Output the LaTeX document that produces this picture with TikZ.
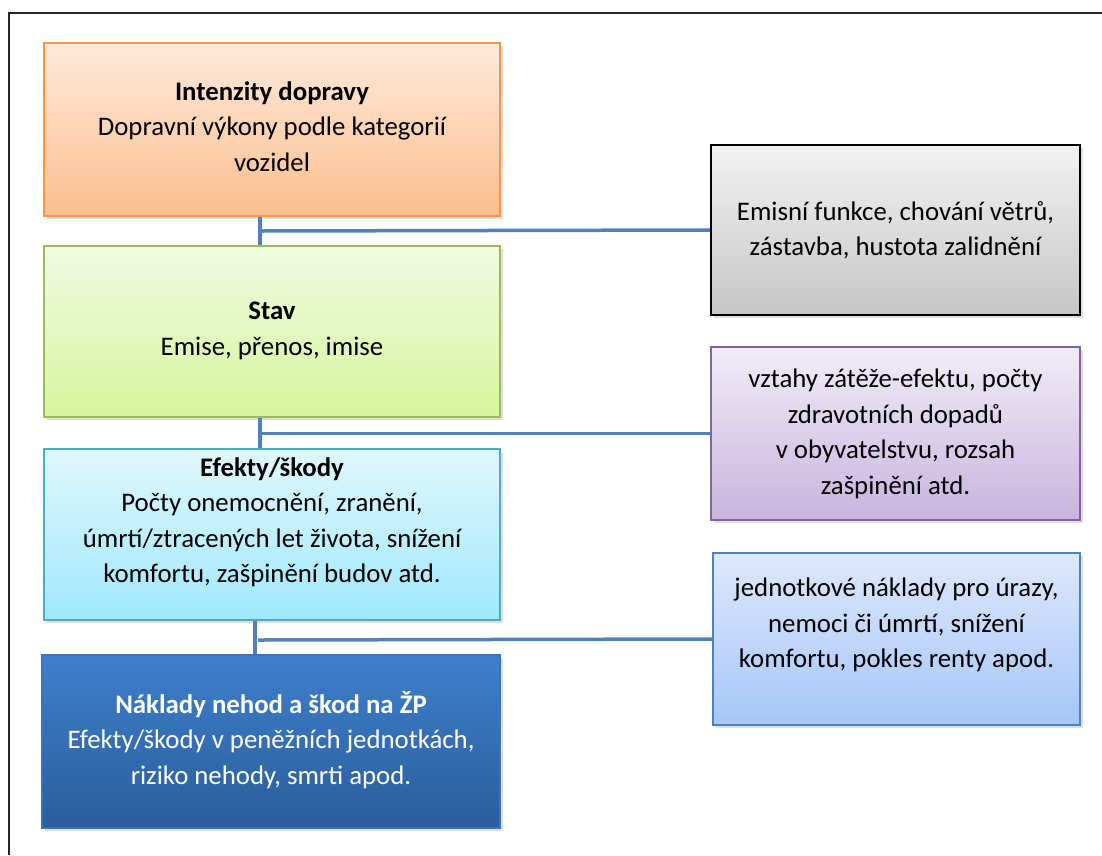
\documentclass[tikz,border=0pt]{standalone}
\usepackage{fontspec}
\setmainfont{Carlito}
\usetikzlibrary{shadows}
\definecolor{conn}{HTML}{4F81BD}
\definecolor{oD}{HTML}{F79646}\definecolor{oT}{HTML}{FEEADB}\definecolor{oB}{HTML}{FBBE8E}
\definecolor{gD}{HTML}{9BBB59}\definecolor{gT}{HTML}{F1FAE3}\definecolor{gB}{HTML}{D6F59C}
\definecolor{cD}{HTML}{4BACC6}\definecolor{cT}{HTML}{E0F7FD}\definecolor{cB}{HTML}{A0E8FC}
\definecolor{dD}{HTML}{3A74BE}\definecolor{dT}{HTML}{3E7FCC}\definecolor{dB}{HTML}{2B5D9C}
\definecolor{sT}{HTML}{F2F2F2}\definecolor{sB}{HTML}{C6C6C6}
\definecolor{pD}{HTML}{8064A2}\definecolor{pT}{HTML}{F1ECF6}\definecolor{pB}{HTML}{C8B4DF}
\definecolor{lD}{HTML}{4F81BD}\definecolor{lT}{HTML}{DDE8FC}\definecolor{lB}{HTML}{A6C6F8}
\tikzset{
  box/.style={rectangle, draw, line width=1.5pt, inner sep=0pt,
    drop shadow={shadow xshift=3pt, shadow yshift=-3pt, opacity=0.25}},
  txt/.style={align=center, font=\fontsize{26.8}{35.5}\selectfont, inner sep=0pt},
  link/.style={draw=conn, line width=3.5pt}
}
\begin{document}
\begin{tikzpicture}[x=1pt, y=-1pt]
\useasboundingbox (0,0) rectangle (1102,855);
\draw[line width=1.2pt, black!85] (9,855) -- (9,13) -- (1102,13);

% left column
\node[box, draw=oD, top color=oT, bottom color=oB,
  minimum width=456pt, minimum height=173pt] (ob) at (272,129.5) {};
\node[txt] (ot) at (272,126.5) {\textbf{Intenzity dopravy}\\Dopravní výkony podle kategorií\\vozidel};

\node[box, draw=gD, top color=gT, bottom color=gB,
  minimum width=456pt, minimum height=171pt] (gb) at (272,331.5) {};
\node[txt] (gt) at (272,331) {\textbf{Stav}\\Emise, přenos, imise};

\node[box, draw=cD, top color=cT, bottom color=cB,
  minimum width=456pt, minimum height=171pt] (cb) at (272,534.5) {};
\node[txt] (ct) at (272,522) {\textbf{Efekty/škody}\\Počty onemocnění, zranění,\\úmrtí/ztracených let života, snížení\\komfortu, zašpinění budov atd.};

\node[box, draw=dD, top color=dT, bottom color=dB,
  minimum width=458pt, minimum height=173pt] (db) at (271,741.5) {};
\node[txt, text=white] (dt) at (271,740) {\textbf{Náklady nehod a škod na ŽP}\\Efekty/škody v peněžních jednotkách,\\riziko nehody, smrti apod.};

% right column
\node[box, draw=black, line width=2pt, top color=sT, bottom color=sB,
  minimum width=369pt, minimum height=170pt] (gr) at (895.5,230) {};
\node[txt] (grt) at (895.5,230) {Emisní funkce, chování větrů,\\zástavba, hustota zalidnění};

\node[box, draw=pD, top color=pT, bottom color=pB,
  minimum width=369pt, minimum height=173pt] (pb) at (895.5,433.5) {};
\node[txt] (pt) at (895.5,434) {vztahy zátěže-efektu, počty\\zdravotních dopadů\\v obyvatelstvu, rozsah\\zašpinění atd.};

\node[box, draw=lD, top color=lT, bottom color=lB,
  minimum width=367pt, minimum height=172pt] (lb) at (896.5,639) {};
\node[txt] (lt) at (896.5,625) {jednotkové náklady pro úrazy,\\nemoci či úmrtí, snížení\\komfortu, pokles renty apod.};

% connectors
\coordinate (j1) at (260,231);
\coordinate (j2) at (260,433.5);
\coordinate (j3a) at (255,640);
\coordinate (j3) at (258,640);
\draw[link] (ob.south -| j1) -- (gb.north -| j1);
\draw[link] (j1) -- (gr.west);
\draw[link] (gb.south -| j2) -- (cb.north -| j2);
\draw[link] (j2) -- (pb.west);
\draw[link] (cb.south -| j3a) -- (db.north -| j3a);
\draw[link] (j3) -- (lb.west);
\end{tikzpicture}
\end{document}
